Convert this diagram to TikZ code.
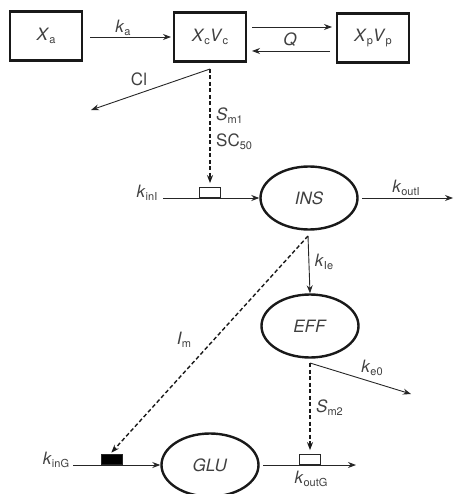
\documentclass[tikz,border=0pt]{standalone}
\usepackage{fontspec}
\setmainfont{TeX Gyre Heros}
\usetikzlibrary{shapes.geometric,arrows.meta}
\newcommand\sbx[1]{\raisebox{-0.35ex}{\fontsize{11}{11}\selectfont #1}}
\begin{document}
\begin{tikzpicture}[x=1pt,y=-1pt,
  font=\fontsize{17}{20}\selectfont,
  every node/.style={text=black!75},
  comp/.style={draw=black!90, line width=2.4pt, minimum width=72pt, minimum height=49pt, inner sep=0},
  pool/.style={draw=black!90, ellipse, line width=2.4pt, minimum width=97pt, minimum height=63pt, inner sep=0},
  flow/.style={draw=black!85, line width=0.9pt, -{Stealth[length=8pt,width=6pt]}},
  ctrl/.style={draw=black!90, line width=1.4pt, dash pattern=on 4pt off 2.5pt, -{Stealth[length=8pt,width=6pt]}, shorten >=4pt},
  gate/.style={draw=black!85, line width=0.9pt, minimum width=21pt, minimum height=10pt, inner sep=0, fill=white},
  lbl/.style={inner sep=1pt}]
\useasboundingbox (0,0) rectangle (453,494);
% compartments
\node[comp] (xa) at (46,36) {\textit{X}\sbx{a}};
\node[comp] (xc) at (210,37) {\textit{X}\sbx{c}\textit{V}\sbx{c}};
\node[comp] (xp) at (373,38) {\textit{X}\sbx{p}\textit{V}\sbx{p}};
% pools
\node[pool] (ins) at (309,198) {\textit{INS}};
\node[pool] (eff) at (310,326) {\textit{EFF}};
\node[pool] (glu) at (210,465) {\textit{GLU}};
% coordinates
\coordinate (kaS) at (90,37);
\coordinate (kaE) at (171,37);
\coordinate (qtS) at (252,27);
\coordinate (qtE) at (332,27);
\coordinate (qbS) at (330,51);
\coordinate (qbE) at (252,51);
\coordinate (b1) at (210,69);
\coordinate (clE) at (91,110);
\coordinate (kinIS) at (163,198);
\coordinate (koutIS) at (362,198);
\coordinate (koutIE) at (453,198);
\coordinate (b2) at (308,236);
\coordinate (b3) at (310,363);
\coordinate (ke0E) at (411,394);
\coordinate (kinGS) at (73,465);
\coordinate (koutGS) at (263,465);
\coordinate (koutGE) at (356,465);
% PK arrows
\draw[flow] (kaS) -- (kaE);
\node[lbl] (ka) at (123,28) {\textit{k}\sbx{a}};
\draw[flow] (qtS) -- (qtE);
\draw[flow] (qbS) -- (qbE);
\node[lbl] (q) at (290,40) {\textit{Q}};
\draw[flow] (b1) -- (clE);
\node[lbl] (cl) at (139,79) {Cl};
% INS row
\draw[flow] (kinIS) -- (ins.west);
\node[gate, anchor=south] (g1) at (210,198) {};
\draw[ctrl] (b1) -- (g1.north);
\node[lbl] (sm1) [anchor=west] at (215,116) {\textit{S}\sbx{m1}};
\node[lbl] (sc50) [anchor=west] at (215,142) {SC\sbx{50}};
\node[lbl] (kinI) at (147,193) {\textit{k}\sbx{inI}};
\draw[flow] (koutIS) -- (koutIE);
\node[lbl] (koutI) at (406,188) {\textit{k}\sbx{outI}};
% INS -> EFF, INS -> GLU gate
\draw[flow] (b2) -- (eff.north);
\node[lbl] (kie) at (324,262) {\textit{k}\sbx{Ie}};
% GLU row
\draw[flow] (kinGS) -- (glu.west);
\node[gate, anchor=south, fill=black] (g2) at (112,465) {};
\draw[ctrl, shorten >=2pt] (b2) -- ([xshift=-2pt]g2.north);
\node[lbl] (im) at (184,340) {\textit{I}\sbx{m}};
\node[lbl] (kinG) at (56,460) {\textit{k}\sbx{inG}};
\draw[flow] (koutGS) -- (koutGE);
\node[gate, anchor=south] (g3) at (310,465) {};
\node[lbl] (koutG) at (311,479) {\textit{k}\sbx{outG}};
% EFF outputs
\draw[flow] (b3) -- (ke0E);
\node[lbl] (ke0) at (372,368) {\textit{k}\sbx{e0}};
\draw[ctrl] (b3) -- (g3.north);
\node[lbl] (sm2) [anchor=west] at (315,408) {\textit{S}\sbx{m2}};
\end{tikzpicture}
\end{document}
